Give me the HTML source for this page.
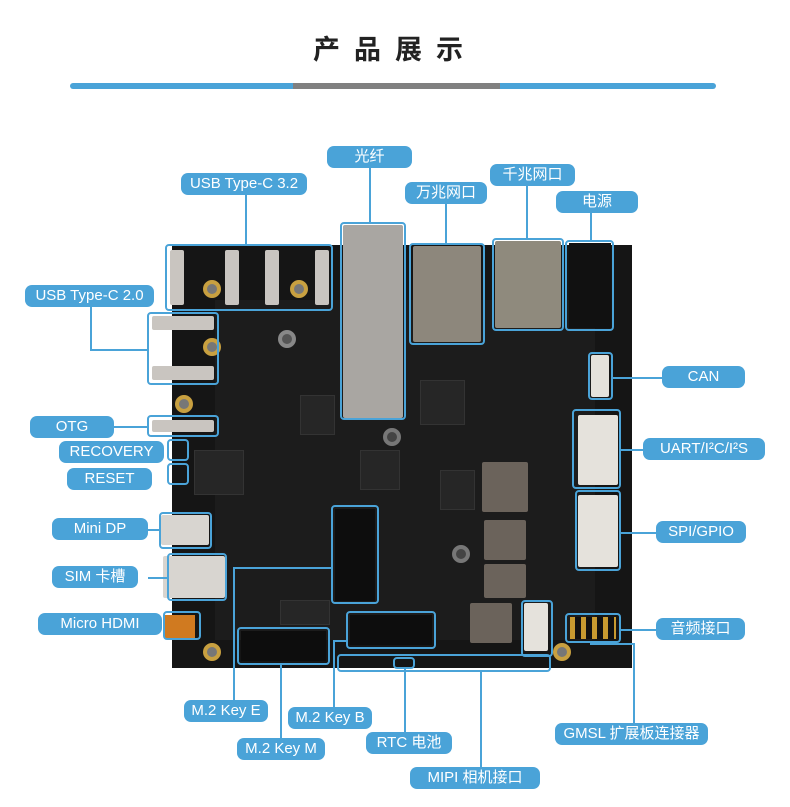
<!DOCTYPE html>
<html><head><meta charset="utf-8"><style>
body{margin:0;width:790px;height:807px;background:#fff;position:relative;overflow:hidden;font-family:"Liberation Sans","Noto Sans CJK SC",sans-serif}
div{position:absolute;box-sizing:border-box}
.l{background:#4aa3d8;color:#fff;border-radius:7px;font-size:15px;text-align:center;line-height:22px;height:22px}
.b{border:2px solid #4aa3d8;border-radius:4px}
.h{height:2px;background:#4aa3d8}
.v{width:2px;background:#4aa3d8}
.m{background:#c9c5c0;border-radius:2px}
.g{background:#555}
.o{width:18px;height:18px;border-radius:50%;background:#777;border:4px solid #c8a040}
.c{background:#262626;border:1px solid #333}
</style></head><body>
<div style="left:0;top:28px;width:790px;text-align:center;font-size:27px;font-weight:bold;letter-spacing:14px;color:#222">产品展示</div>
<div style="left:70px;top:83px;width:223px;height:6px;background:#4aa3d8;border-radius:3px 0 0 3px"></div>
<div style="left:293px;top:83px;width:207px;height:6px;background:#808080"></div>
<div style="left:500px;top:83px;width:216px;height:6px;background:#4aa3d8;border-radius:0 3px 3px 0"></div>

<!-- board -->
<div style="left:172px;top:245px;width:460px;height:423px;background:#151515"></div>
<div style="left:215px;top:300px;width:380px;height:340px;background:#1c1c1c"></div>
<div class="c" style="left:420px;top:380px;width:45px;height:45px"></div>
<div class="c" style="left:300px;top:395px;width:35px;height:40px"></div>
<div class="c" style="left:440px;top:470px;width:35px;height:40px"></div>
<div class="c" style="left:360px;top:450px;width:40px;height:40px"></div>
<div class="c" style="left:280px;top:600px;width:50px;height:25px"></div>
<div class="m" style="left:343px;top:225px;width:60px;height:193px;background:#a9a6a2"></div>
<div class="m" style="left:413px;top:246px;width:68px;height:96px;background:#8d877c"></div>
<div class="m" style="left:495px;top:241px;width:66px;height:87px;background:#8f8a7d"></div>
<div style="left:569px;top:243px;width:42px;height:85px;background:#111"></div>
<div class="m" style="left:170px;top:250px;width:14px;height:55px"></div>
<div class="m" style="left:225px;top:250px;width:14px;height:55px"></div>
<div class="m" style="left:265px;top:250px;width:14px;height:55px"></div>
<div class="m" style="left:315px;top:250px;width:14px;height:55px"></div>
<div class="o" style="left:203px;top:280px"></div>
<div class="o" style="left:290px;top:280px"></div>
<div class="o" style="left:203px;top:338px"></div>
<div class="o" style="left:175px;top:395px"></div>
<div class="o" style="left:203px;top:643px"></div>
<div class="o" style="left:553px;top:643px"></div>
<div class="o" style="left:278px;top:330px;background:#555;border-color:#888"></div>
<div class="o" style="left:383px;top:428px;background:#444;border-color:#777"></div>
<div class="o" style="left:452px;top:545px;background:#444;border-color:#777"></div>
<div class="m" style="left:152px;top:316px;width:62px;height:14px"></div>
<div class="m" style="left:152px;top:366px;width:62px;height:14px"></div>
<div class="m" style="left:152px;top:420px;width:62px;height:12px"></div>
<div class="m" style="left:161px;top:515px;width:48px;height:30px;background:#d8d5d0"></div>
<div class="m" style="left:163px;top:556px;width:62px;height:42px;background:#d8d5d0"></div>
<div style="left:165px;top:615px;width:30px;height:24px;background:#d07a20"></div>
<div class="m" style="left:482px;top:462px;width:46px;height:50px;background:#6b635b"></div>
<div class="m" style="left:484px;top:520px;width:42px;height:40px;background:#6b635b"></div>
<div class="m" style="left:484px;top:564px;width:42px;height:34px;background:#6b635b"></div>
<div class="m" style="left:470px;top:603px;width:42px;height:40px;background:#6b635b"></div>
<div class="m" style="left:578px;top:415px;width:40px;height:70px;background:#e5e2dc"></div>
<div class="m" style="left:578px;top:495px;width:40px;height:72px;background:#e5e2dc"></div>
<div class="m" style="left:591px;top:355px;width:18px;height:42px;background:#e5e2dc"></div>
<div class="m" style="left:524px;top:603px;width:24px;height:48px;background:#e5e2dc"></div>
<div style="left:570px;top:617px;width:46px;height:22px;background:repeating-linear-gradient(90deg,#c89a30 0 5px,#111 5px 11px)"></div>
<div class="c" style="left:194px;top:450px;width:50px;height:45px"></div>
<div style="left:335px;top:509px;width:40px;height:92px;background:#0d0d0d"></div>
<div style="left:350px;top:615px;width:82px;height:30px;background:#0d0d0d"></div>
<div style="left:241px;top:631px;width:85px;height:30px;background:#0d0d0d"></div>

<!-- boxes -->
<div class="b" style="left:165px;top:244px;width:168px;height:67px"></div>
<div class="b" style="left:340px;top:222px;width:66px;height:198px"></div>
<div class="b" style="left:409px;top:243px;width:76px;height:102px"></div>
<div class="b" style="left:492px;top:238px;width:72px;height:93px"></div>
<div class="b" style="left:565px;top:240px;width:49px;height:91px"></div>
<div class="b" style="left:147px;top:312px;width:72px;height:73px"></div>
<div class="b" style="left:588px;top:352px;width:25px;height:48px"></div>
<div class="b" style="left:147px;top:415px;width:72px;height:22px"></div>
<div class="b" style="left:167px;top:439px;width:22px;height:22px"></div>
<div class="b" style="left:167px;top:463px;width:22px;height:22px"></div>
<div class="b" style="left:572px;top:409px;width:49px;height:80px"></div>
<div class="b" style="left:159px;top:512px;width:53px;height:37px"></div>
<div class="b" style="left:575px;top:490px;width:46px;height:81px"></div>
<div class="b" style="left:167px;top:553px;width:60px;height:48px"></div>
<div class="b" style="left:163px;top:611px;width:38px;height:29px"></div>
<div class="b" style="left:565px;top:613px;width:56px;height:30px"></div>
<div class="b" style="left:331px;top:505px;width:48px;height:99px"></div>
<div class="b" style="left:346px;top:611px;width:90px;height:38px"></div>
<div class="b" style="left:237px;top:627px;width:93px;height:38px"></div>
<div class="b" style="left:337px;top:654px;width:214px;height:18px"></div>
<div class="b" style="left:393px;top:657px;width:22px;height:12px"></div>
<div class="b" style="left:521px;top:600px;width:32px;height:57px"></div>

<!-- lines -->
<div class="v" style="left:245px;top:194px;height:50px"></div>
<div class="v" style="left:369px;top:168px;height:54px"></div>
<div class="v" style="left:445px;top:204px;height:39px"></div>
<div class="v" style="left:526px;top:186px;height:52px"></div>
<div class="v" style="left:590px;top:212px;height:28px"></div>
<div class="v" style="left:90px;top:307px;height:43px"></div>
<div class="h" style="left:90px;top:349px;width:58px"></div>
<div class="h" style="left:613px;top:377px;width:49px"></div>
<div class="h" style="left:114px;top:426px;width:34px"></div>
<div class="h" style="left:621px;top:449px;width:22px"></div>
<div class="h" style="left:148px;top:529px;width:11px"></div>
<div class="h" style="left:621px;top:532px;width:35px"></div>
<div class="h" style="left:148px;top:577px;width:19px"></div>
<div class="h" style="left:621px;top:629px;width:35px"></div>
<div class="v" style="left:233px;top:567px;height:133px"></div>
<div class="h" style="left:233px;top:567px;width:98px"></div>
<div class="v" style="left:333px;top:640px;height:67px"></div>
<div class="h" style="left:333px;top:640px;width:13px"></div>
<div class="v" style="left:280px;top:665px;height:73px"></div>
<div class="v" style="left:404px;top:669px;height:63px"></div>
<div class="v" style="left:480px;top:672px;height:95px"></div>
<div class="h" style="left:590px;top:643px;width:45px"></div>
<div class="v" style="left:633px;top:643px;height:80px"></div>

<!-- labels -->
<div class="l" style="left:181px;top:173px;width:126px">USB Type-C 3.2</div>
<div class="l" style="left:327px;top:146px;width:85px">光纤</div>
<div class="l" style="left:405px;top:182px;width:82px">万兆网口</div>
<div class="l" style="left:490px;top:164px;width:85px">千兆网口</div>
<div class="l" style="left:556px;top:191px;width:82px">电源</div>
<div class="l" style="left:25px;top:285px;width:129px">USB Type-C 2.0</div>
<div class="l" style="left:662px;top:366px;width:83px">CAN</div>
<div class="l" style="left:30px;top:416px;width:84px">OTG</div>
<div class="l" style="left:59px;top:441px;width:105px">RECOVERY</div>
<div class="l" style="left:67px;top:468px;width:85px">RESET</div>
<div class="l" style="left:643px;top:438px;width:122px">UART/I²C/I²S</div>
<div class="l" style="left:52px;top:518px;width:96px">Mini DP</div>
<div class="l" style="left:656px;top:521px;width:90px">SPI/GPIO</div>
<div class="l" style="left:52px;top:566px;width:86px">SIM 卡槽</div>
<div class="l" style="left:38px;top:613px;width:124px">Micro HDMI</div>
<div class="l" style="left:656px;top:618px;width:89px">音频接口</div>
<div class="l" style="left:184px;top:700px;width:84px">M.2 Key E</div>
<div class="l" style="left:288px;top:707px;width:84px">M.2 Key B</div>
<div class="l" style="left:237px;top:738px;width:88px">M.2 Key M</div>
<div class="l" style="left:366px;top:732px;width:86px">RTC 电池</div>
<div class="l" style="left:410px;top:767px;width:130px">MIPI 相机接口</div>
<div class="l" style="left:555px;top:723px;width:153px">GMSL 扩展板连接器</div>
</body></html>
